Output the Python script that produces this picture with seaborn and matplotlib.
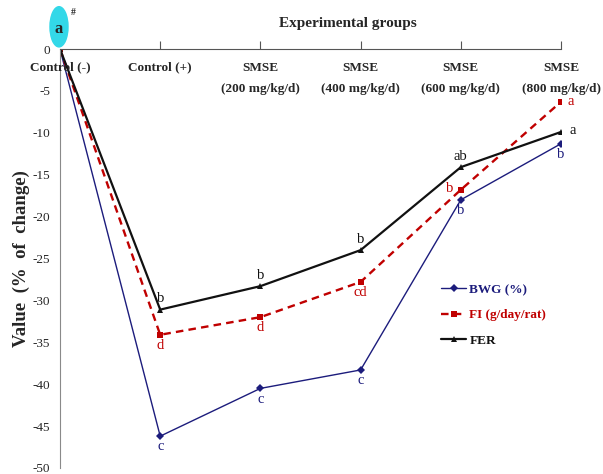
import matplotlib
matplotlib.use('Agg')
import matplotlib.pyplot as plt
from matplotlib.patches import Ellipse
import seaborn as sns
import pandas as pd

# Grupos experimentais
groups = ['Control (-)', 'Control (+)', 'SMSE\n(200 mg/kg/d)', 'SMSE\n(400 mg/kg/d)',
          'SMSE\n(600 mg/kg/d)', 'SMSE\n(800 mg/kg/d)']

# Valores (% de mudança)
bwg = [0, -46.2, -40.5, -38.3, -18.0, -11.3]
fi = [0, -34.1, -32.0, -27.8, -16.8, -6.3]
fer = [0, -31.1, -28.3, -24.0, -14.1, -9.9]

# Letras de significância
bwg_letters = ['', 'c', 'c', 'c', 'b', 'b']
fi_letters = ['', 'd', 'd', 'cd', 'b', 'a']
fer_letters = ['', 'b', 'b', 'b', 'ab', 'a']

sns.set_style('white')
plt.rcParams['font.family'] = ['Liberation Serif', 'DejaVu Serif']

df = pd.DataFrame({'x': range(len(groups)), 'BWG': bwg, 'FI': fi, 'FER': fer})

fig = plt.figure(figsize=(6.03, 4.74), dpi=100)
ax = fig.add_axes([60 / 603, 1 - 468 / 474, (561 - 60) / 603, (468 - 49) / 474])

blue = '#1c1c7c'
red = '#c00000'
black = '#111111'

sns.lineplot(data=df, x='x', y='BWG', ax=ax, color=blue, lw=1, marker='D',
             markersize=4, markeredgewidth=0, label='BWG (%)')
sns.lineplot(data=df, x='x', y='FI', ax=ax, color=red, lw=1.7, marker='s',
             markersize=5, markeredgewidth=0, label='FI (g/day/rat)')
ax.lines[-1].set_linestyle((0, (3.2, 2.2)))
sns.lineplot(data=df, x='x', y='FER', ax=ax, color=black, lw=1.6, marker='^',
             markersize=5, markeredgewidth=0, label='FER')

ax.set_xlim(0, 5)
ax.set_ylim(-50, 0)

# Eixos: linha do x no topo (y=0), eixo y à esquerda
for s in ['right', 'bottom']:
    ax.spines[s].set_visible(False)
ax.spines['top'].set_color('#555555')
ax.spines['left'].set_color('#8a8a8a')
ax.xaxis.tick_top()
ax.set_xticks(range(1, len(groups)))
ax.set_xticklabels([])
ax.tick_params(axis='x', direction='out', length=6, color='#555555')
ax.set_yticks(range(0, -51, -5))
ax.set_yticklabels([str(v) for v in range(0, -51, -5)], fontsize=9.5)
ax.tick_params(axis='y', direction='inout', length=8, color='#8a8a8a', pad=3)
ax.set_xlabel('')
ax.set_ylabel('Value  (%  of  change)', fontsize=13.5, fontweight='bold', labelpad=2)

# Rótulos dos grupos abaixo da linha do eixo
for i, g in enumerate(groups):
    ax.annotate(g, (i, 0), xytext=(0, -9), textcoords='offset points',
                ha='center', va='top', fontsize=9.5, fontweight='bold',
                linespacing=2.0, annotation_clip=False)

ax.text(2.87, 1.045, 'Experimental groups', transform=ax.get_xaxis_transform(),
        ha='center', va='bottom', fontsize=11, fontweight='bold')

# Letras
for i in range(1, len(groups)):
    ax.annotate(bwg_letters[i], (i, bwg[i]), xytext=(0, -3), textcoords='offset points',
                ha='center', va='top', color=blue, fontsize=10.5)
    ax.annotate(fer_letters[i], (i, fer[i]), xytext=(0, 3) if i < 5 else (6, 1),
                textcoords='offset points', ha='center' if i < 5 else 'left',
                va='bottom' if i < 5 else 'center', color=black, fontsize=10.5)
for i in range(1, 4):
    ax.annotate(fi_letters[i], (i, fi[i]), xytext=(0, -3), textcoords='offset points',
                ha='center', va='top', color=red, fontsize=10.5)
ax.annotate(fi_letters[4], (4, fi[4]), xytext=(-5, 1), textcoords='offset points',
            ha='right', va='center', color=red, fontsize=10.5)
ax.annotate(fi_letters[5], (5, fi[5]), xytext=(5, 0), textcoords='offset points',
            ha='left', va='center', color=red, fontsize=10.5)

# Elipse do Control (-)
ax.add_patch(Ellipse((-0.01, 2.65), 0.18, 4.8, color='#33d8e8', clip_on=False, zorder=5))
ax.text(-0.01, 2.4, 'a', ha='center', va='center', fontsize=12, fontweight='bold',
        zorder=6, clip_on=False)
ax.text(0.13, 4.3, '#', ha='center', va='center', fontsize=7, fontweight='bold',
        clip_on=False)

# Legenda
leg = ax.legend(loc='upper left', bbox_to_anchor=(0.737, 0.468), frameon=False,
                handlelength=1.9, handletextpad=0.25, labelspacing=1.0,
                prop={'weight': 'bold', 'size': 9.5})
for t, c in zip(leg.get_texts(), [blue, red, black]):
    t.set_color(c)

fig.savefig('out.png', dpi=100)
